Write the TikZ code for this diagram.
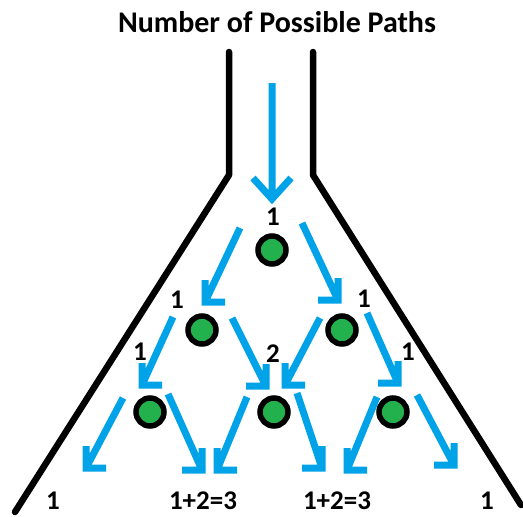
\documentclass[tikz,border=0pt]{standalone}
\usepackage{fontspec}
\setmainfont{Carlito}
\usepackage{tikz}
\usetikzlibrary{calc}
\definecolor{paintblue}{RGB}{0,162,232}
\definecolor{paintgreen}{RGB}{34,177,76}

\begin{document}
\begin{tikzpicture}[
    x=1pt, y=-1pt,
    wall/.style={line width=6.5pt, line join=round, line cap=round},
    flow/.style={paintblue, line width=7pt},
    barbL/.style={insert path={++(0,-22) -- ++(0,22) -- ++(20,0)}},
    barbR/.style={insert path={++(0,-22) -- ++(0,22) -- ++(-20,0)}},
    dot/.style={circle, draw, line width=5.5pt, fill=paintgreen, minimum size=28pt, inner sep=0pt},
    count/.style={font=\bfseries\fontsize{27}{30}\selectfont, anchor=base, inner sep=0pt}
]
    \useasboundingbox (0,0) rectangle (523,517);

    % Title
    \node[font=\bfseries\fontsize{30}{36}\selectfont, anchor=base] (title) at (277,32) {Number of Possible Paths};

    % Funnel walls
    \draw[wall] (229,52) -- (229,175) -- (15,512);
    \draw[wall] (313,52) -- (313,175) -- (521,505);

    % Pegs
    \node[dot] (d1) at (272,250) {};
    \node[dot] (d2a) at (202,330) {};
    \node[dot] (d2b) at (342,330) {};
    \node[dot] (d3a) at (150,412) {};
    \node[dot] (d3b) at (274,412) {};
    \node[dot] (d3c) at (393,412) {};

    % Path counts
    \node[count] (c1) at (273,225) {1};
    \node[count] (c2a) at (177,308) {1};
    \node[count] (c2b) at (364,307) {1};
    \node[count] (c3a) at (140,360) {1};
    \node[count] (c3b) at (273,362) {2};
    \node[count] (c3c) at (408,360) {1};
    \node[count] (c4a) at (53,509) {1};
    \node[count] (c4b) at (203,509) {1+2=3};
    \node[count] (c4c) at (337,509) {1+2=3};
    \node[count] (c4d) at (487,509) {1};

    % Entry
    \coordinate (entry) at (272,83);
    \draw[flow] (entry) -- ($(d1)+(0,-51)$) ++(-19,-21) -- ++(19,21) -- ++(19,-21);

    % Top peg
    \draw[flow] ($(d1)+(-32,-22)$) -- ($(d1)+(-67,52)$) [barbL];
    \draw[flow] ($(d1)+(30,-27)$) -- ($(d1)+(66,50)$) [barbR];

    % Second row
    \draw[flow] ($(d2a)+(-29,-13)$) -- ($(d2a)+(-60,55)$) [barbL];
    \draw[flow] ($(d2a)+(30,-12)$) -- ($(d2a)+(64,56)$) [barbR];
    \draw[flow] ($(d2b)+(-22,-12)$) -- ($(d2b)+(-57,55)$) [barbL];
    \draw[flow] ($(d2b)+(25,-17)$) -- ($(d2b)+(56,53)$) [barbR];

    % Third row
    \draw[flow] ($(d3a)+(-27,-14)$) -- ($(d3a)+(-64,56)$) [barbL];
    \draw[flow] ($(d3a)+(18,-18)$) -- ($(d3a)+(52,58)$) [barbR];
    \draw[flow] ($(d3b)+(-27,-15)$) -- ($(d3b)+(-57,58)$) [barbL];
    \draw[flow] ($(d3b)+(23,-19)$) -- ($(d3b)+(48,56)$) [barbR];
    \draw[flow] ($(d3c)+(-16,-15)$) -- ($(d3c)+(-46,58)$) [barbL];
    \draw[flow] ($(d3c)+(24,-17)$) -- ($(d3c)+(61,53)$) [barbR];

\end{tikzpicture}
\end{document}
